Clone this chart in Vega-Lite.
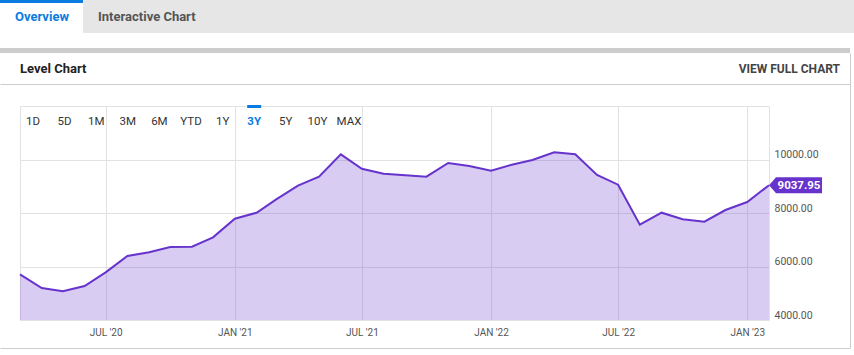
{
  "$schema": "https://vega.github.io/schema/vega-lite/v6.json",
  "background": "white",
  "padding": {"left": -1, "top": 0, "right": 0, "bottom": 0},
  "spacing": 15,
  "config": {
    "view": {"stroke": null},
    "font": "Roboto, sans-serif"
  },
  "datasets": {
    "level": [
      {"date": "2020-03-01", "value": 5708},
      {"date": "2020-04-01", "value": 5196},
      {"date": "2020-05-01", "value": 5073},
      {"date": "2020-06-01", "value": 5271},
      {"date": "2020-07-01", "value": 5783},
      {"date": "2020-08-01", "value": 6392},
      {"date": "2020-09-01", "value": 6530},
      {"date": "2020-10-01", "value": 6729},
      {"date": "2020-11-01", "value": 6740},
      {"date": "2020-12-01", "value": 7091},
      {"date": "2021-01-01", "value": 7787},
      {"date": "2021-02-01", "value": 8011},
      {"date": "2021-03-01", "value": 8512},
      {"date": "2021-04-01", "value": 9021},
      {"date": "2021-05-01", "value": 9357},
      {"date": "2021-06-01", "value": 10193},
      {"date": "2021-07-01", "value": 9656},
      {"date": "2021-08-01", "value": 9469},
      {"date": "2021-09-01", "value": 9409},
      {"date": "2021-10-01", "value": 9357},
      {"date": "2021-11-01", "value": 9869},
      {"date": "2021-12-01", "value": 9757},
      {"date": "2022-01-01", "value": 9581},
      {"date": "2022-02-01", "value": 9815},
      {"date": "2022-03-01", "value": 9981},
      {"date": "2022-04-01", "value": 10269},
      {"date": "2022-05-01", "value": 10193},
      {"date": "2022-06-01", "value": 9420},
      {"date": "2022-07-01", "value": 9058},
      {"date": "2022-08-01", "value": 7563},
      {"date": "2022-09-01", "value": 8011},
      {"date": "2022-10-01", "value": 7764},
      {"date": "2022-11-01", "value": 7675},
      {"date": "2022-12-01", "value": 8112},
      {"date": "2023-01-01", "value": 8411},
      {"date": "2023-02-01", "value": 9037.95}
    ],
    "tabs": [
      {"tab": "Overview", "active": true},
      {"tab": "Interactive Chart", "active": false}
    ],
    "header": [
      {"label": "Level Chart"},
      {"label": "VIEW FULL CHART"}
    ],
    "ranges": [
      {"range": "1D"}, {"range": "5D"}, {"range": "1M"}, {"range": "3M"}, {"range": "6M"},
      {"range": "YTD"}, {"range": "1Y"}, {"range": "3Y"}, {"range": "5Y"}, {"range": "10Y"}, {"range": "MAX"}
    ]
  },
  "vconcat": [
    {
      "bounds": "flush",
      "spacing": 0,
      "vconcat": [
        {
          "width": 854,
          "height": 3,
          "view": {"fill": "#e6e6e6", "stroke": null},
          "data": {"name": "tabs"},
          "transform": [{"filter": "datum.active"}],
          "mark": {"type": "rect", "fill": "#0a7ce0"},
          "encoding": {
            "x": {"field": "tab", "type": "nominal", "scale": {"type": "band", "domain": ["Overview", "Interactive Chart"], "range": [0, 166], "paddingInner": 0, "paddingOuter": 0}, "axis": null}
          }
        },
        {
          "width": 854,
          "height": 30,
          "view": {"fill": "#e6e6e6", "stroke": null},
          "data": {"name": "tabs"},
          "layer": [
            {
              "transform": [{"filter": "datum.active"}],
              "mark": {"type": "rect", "fill": "white"},
              "encoding": {
                "x": {"field": "tab", "type": "nominal", "scale": {"type": "band", "domain": ["Overview", "Interactive Chart"], "range": [0, 166], "paddingInner": 0, "paddingOuter": 0}, "axis": null}
              }
            },
            {
              "mark": {"type": "text", "align": "left", "baseline": "middle", "dx": 15, "dy": -1.3, "fontSize": 13, "fontWeight": "bold"},
              "encoding": {
                "x": {"field": "tab", "type": "nominal", "bandPosition": 0, "scale": {"type": "band", "domain": ["Overview", "Interactive Chart"], "range": [0, 166], "paddingInner": 0, "paddingOuter": 0}, "axis": null},
                "text": {"field": "tab"},
                "color": {"condition": {"test": "datum.active", "value": "#0a7ce0"}, "value": "#555555"}
              }
            }
          ]
        }
      ]
    },
    {
      "bounds": "flush",
      "spacing": 0,
      "vconcat": [
        {
          "width": 850,
          "height": 5,
          "view": {"stroke": null},
          "data": {"name": "header"},
          "mark": {"type": "rect", "fill": "#cccccc"},
          "encoding": {}
        },
        {
          "width": 850,
          "height": 31,
          "view": {"stroke": "#cccccc", "strokeDash": [0, 850, 31, 1732]},
          "data": {"name": "header"},
          "layer": [
            {
              "transform": [{"filter": "datum.label == 'Level Chart'"}],
              "mark": {"type": "text", "align": "left", "baseline": "middle", "dx": 20, "dy": 0.5, "fontSize": 13, "fontWeight": "bold", "color": "#222222"},
              "encoding": {
                "x": {"field": "label", "type": "nominal", "bandPosition": 0, "scale": {"type": "band", "domain": ["Level Chart", "VIEW FULL CHART"], "paddingInner": 0, "paddingOuter": 0}, "axis": null},
                "text": {"field": "label"}
              }
            },
            {
              "transform": [{"filter": "datum.label == 'VIEW FULL CHART'"}],
              "mark": {"type": "text", "align": "right", "baseline": "middle", "dx": -10, "dy": 0.5, "fontSize": 12, "fontWeight": "bold", "color": "#444444"},
              "encoding": {
                "x": {"field": "label", "type": "nominal", "bandPosition": 1, "scale": {"type": "band", "domain": ["Level Chart", "VIEW FULL CHART"], "paddingInner": 0, "paddingOuter": 0}, "axis": null},
                "text": {"field": "label"}
              }
            }
          ]
        },
        {
          "width": 850,
          "height": 264,
          "view": {"stroke": "#cccccc", "strokeDash": [1964, 264]},
          "layer": [
            {
              "data": {"name": "level"},
              "encoding": {
                "x": {
                  "field": "date", "type": "temporal",
                  "scale": {"type": "utc", "domain": [{"year": 2020, "month": 3, "date": 1, "utc": true}, {"year": 2023, "month": 2, "date": 1, "utc": true}], "range": [20, 769]},
                  "axis": {
                    "orient": "top", "offset": -236, "title": null,
                    "values": [
                      {"year": 2020, "month": 3, "date": 1, "utc": true},
                      {"year": 2020, "month": 7, "date": 1, "utc": true},
                      {"year": 2021, "month": 1, "date": 1, "utc": true},
                      {"year": 2021, "month": 7, "date": 1, "utc": true},
                      {"year": 2022, "month": 1, "date": 1, "utc": true},
                      {"year": 2022, "month": 7, "date": 1, "utc": true},
                      {"year": 2023, "month": 1, "date": 1, "utc": true},
                      {"year": 2023, "month": 2, "date": 1, "utc": true}
                    ],
                    "labelExpr": "utcmonth(datum.value) % 6 == 0 ? upper(utcFormat(datum.value, \"%b '%y\")) : ''",
                    "grid": true, "gridColor": "#e2e2e2", "gridWidth": 1,
                    "ticks": false, "domain": false,
                    "labelBaseline": "top", "labelPadding": -7, "labelFontSize": 10, "labelColor": "#555555",
                    "labelFlush": false, "labelOverlap": false
                  }
                },
                "y": {
                  "field": "value", "type": "quantitative",
                  "scale": {"domain": [4000, 12000], "range": [236, 22], "zero": false, "nice": false},
                  "axis": {
                    "orient": "left", "offset": -769, "title": null,
                    "values": [4000, 6000, 8000, 10000, 12000],
                    "labelExpr": "datum.value >= 12000 ? '' : format(datum.value, '.2f')",
                    "grid": true, "gridColor": "#e2e2e2", "gridWidth": 1,
                    "ticks": false, "domain": false,
                    "labelAlign": "left", "labelBaseline": "bottom", "labelPadding": -5, "labelFontSize": 10.5, "labelColor": "#555555",
                    "labelFlush": false, "labelOverlap": false
                  }
                }
              },
              "layer": [
                {
                  "mark": {"type": "area", "fill": "#6633cc", "fillOpacity": 0.25, "opacity": 1},
                  "encoding": {"y2": {"datum": 4000}}
                },
                {
                  "mark": {"type": "line", "stroke": "#6633cc", "strokeWidth": 2}
                },
                {
                  "transform": [
                    {"window": [{"op": "row_number", "as": "rank"}], "sort": [{"field": "date", "order": "descending"}]},
                    {"filter": "datum.rank == 1"}
                  ],
                  "mark": {"type": "point", "shape": "M0,0L7,-8H53V8H7Z", "size": 4, "filled": true, "color": "#6633cc", "opacity": 1, "strokeWidth": 0}
                },
                {
                  "transform": [
                    {"window": [{"op": "row_number", "as": "rank"}], "sort": [{"field": "date", "order": "descending"}]},
                    {"filter": "datum.rank == 1"}
                  ],
                  "mark": {"type": "text", "align": "center", "baseline": "middle", "dx": 30, "dy": 0.5, "fontSize": 11.5, "fontWeight": "bold", "color": "white"},
                  "encoding": {"text": {"field": "value", "type": "quantitative", "format": ".2f"}}
                }
              ]
            },
            {
              "data": {"name": "ranges"},
              "encoding": {
                "x": {"field": "range", "type": "nominal", "scale": {"type": "point", "domain": ["1D", "5D", "1M", "3M", "6M", "YTD", "1Y", "3Y", "5Y", "10Y", "MAX"], "range": [33, 349], "padding": 0}, "axis": null}
              },
              "layer": [
                {
                  "transform": [{"filter": "datum.range != '3Y'"}],
                  "mark": {"type": "text", "align": "center", "baseline": "middle", "fontSize": 11.5, "color": "#333333"},
                  "encoding": {
                    "y": {"datum": 11400, "type": "quantitative", "scale": {"domain": [4000, 12000], "range": [236, 22], "zero": false, "nice": false}, "axis": null},
                    "text": {"field": "range"}
                  }
                },
                {
                  "transform": [{"filter": "datum.range == '3Y'"}],
                  "mark": {"type": "text", "align": "center", "baseline": "middle", "fontSize": 11.5, "fontWeight": "bold", "color": "#0a7ce0"},
                  "encoding": {
                    "y": {"datum": 11400, "type": "quantitative", "scale": {"domain": [4000, 12000], "range": [236, 22], "zero": false, "nice": false}, "axis": null},
                    "text": {"field": "range"}
                  }
                },
                {
                  "transform": [{"filter": "datum.range == '3Y'"}],
                  "mark": {"type": "tick", "orient": "horizontal", "size": 14, "thickness": 3, "color": "#0a7ce0", "opacity": 1},
                  "encoding": {
                    "y": {"datum": 11981, "type": "quantitative", "scale": {"domain": [4000, 12000], "range": [236, 22], "zero": false, "nice": false}, "axis": null}
                  }
                }
              ]
            }
          ],
          "resolve": {"scale": {"x": "independent", "y": "independent"}}
        }
      ]
    }
  ]
}
